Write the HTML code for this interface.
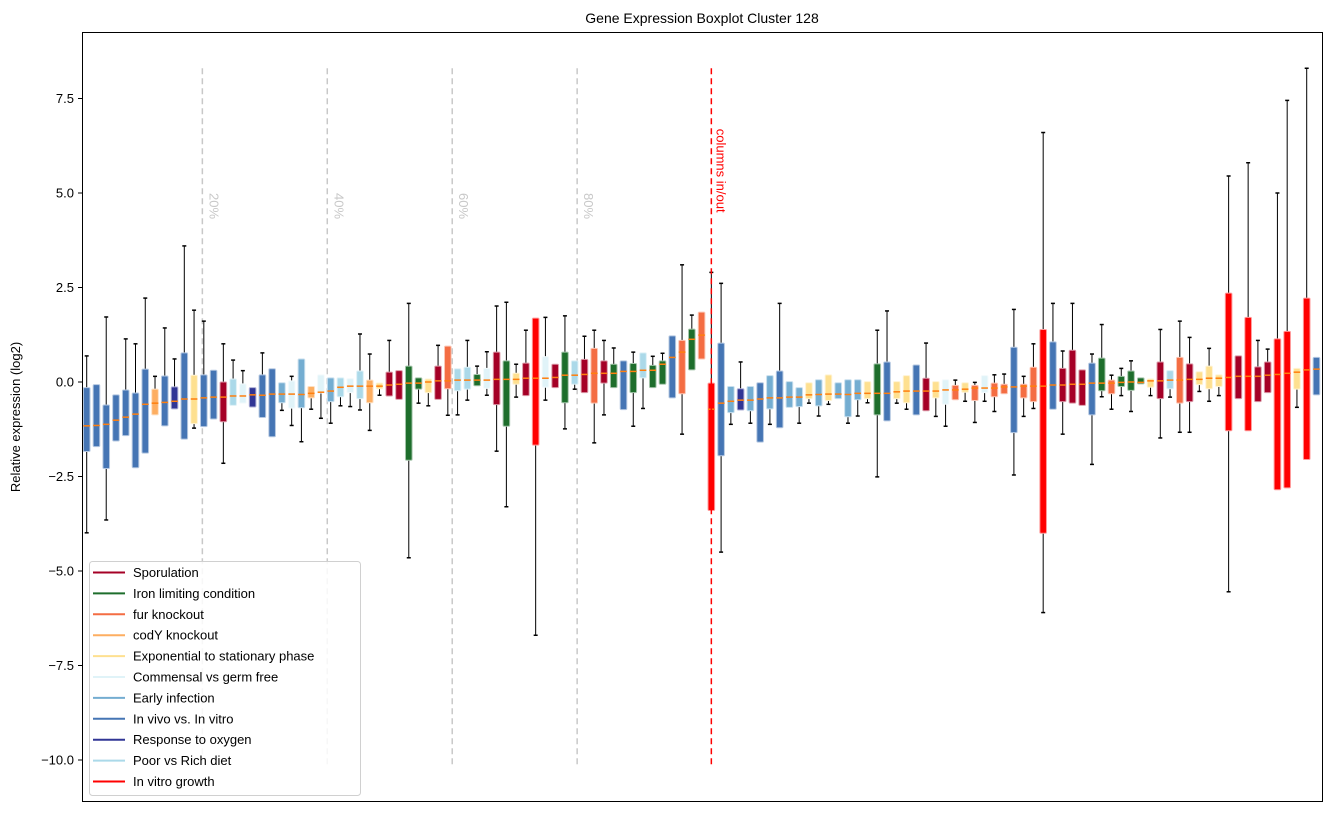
<!DOCTYPE html>
<html><head><meta charset="utf-8"><style>
body{margin:0;background:#fff;font-family:"Liberation Sans","DejaVu Sans",sans-serif;}
svg text{font-family:"Liberation Sans","DejaVu Sans",sans-serif;}
</style></head><body>
<svg id="chart" width="1331" height="812" xmlns="http://www.w3.org/2000/svg">
<rect x="0" y="0" width="1331" height="812" fill="#fff"/>
<g id="plot"></g>
<rect x="82.5" y="32.5" width="1240" height="769" fill="none" stroke="#000" stroke-width="1"/>
<text x="702" y="23" text-anchor="middle" font-size="14">Gene Expression Boxplot Cluster 128</text>
<text transform="translate(20,417) rotate(-90)" text-anchor="middle" font-size="13">Relative expression (log2)</text>
<g id="yaxis"></g>
<g id="legend"></g>
</svg>
<script>
const groups = ["Sporulation","Iron limiting condition","fur knockout","codY knockout","Exponential to stationary phase","Commensal vs germ free","Early infection","In vivo vs. In vitro","Response to oxygen","Poor vs Rich diet","In vitro growth"];
const groupColors = ["#a50026","#1e6e2c","#f46d43","#fdae61","#fee090","#e0f3f8","#74add1","#4575b4","#313695","#abd9e9","#ff0000"];
const groupCodes = ["S","I","F","C","E","M","A","V","O","P","R"];
const boxGroups = "VVVVVVVCVOVEVVSPMOVVAMACMAPMPCESSIIESFPPIMSIESRMSIPSFSIVIPIIVFIFRVAOAVAVAAEAEAAAEIVEEVSEMFEFMFFVFFRVSSSVIFIIIESPFSEEERSRSSRRERV".split("");
const q1 = [-1.84,-1.71,-2.29,-1.56,-1.42,-2.27,-1.88,-0.87,-1.16,-0.71,-1.51,-1.10,-1.18,-0.98,-1.05,-0.62,-0.56,-0.66,-0.94,-1.45,-0.55,-0.69,-0.68,-0.42,-0.29,-0.52,-0.39,-0.28,-0.44,-0.55,-0.18,-0.37,-0.46,-2.07,-0.19,-0.28,-0.46,-0.18,-0.23,-0.19,-0.10,-0.17,-0.60,-1.17,-0.06,-0.36,-1.67,-0.14,-0.15,-0.55,-0.06,-0.28,-0.56,-0.03,-0.15,-0.73,-0.28,0.11,-0.15,-0.06,-0.42,-0.31,0.32,0.61,-3.4,-1.95,-0.81,-0.74,-0.76,-1.59,-0.71,-1.21,-0.67,-0.65,-0.44,-0.63,-0.49,-0.44,-0.92,-0.47,-0.44,-0.87,-1.03,-0.44,-0.55,-0.87,-0.76,-0.42,-0.59,-0.47,-0.27,-0.49,-0.28,-0.39,-0.31,-1.34,-0.42,-0.52,-4.0,-0.72,-0.52,-0.56,-0.62,-0.87,-0.23,-0.31,-0.12,-0.22,-0.05,-0.14,-0.44,-0.18,-0.56,-0.52,-0.07,-0.18,-0.12,-1.29,-0.44,-1.29,-0.52,-0.28,-2.85,-2.8,-0.19,-2.05,-0.34];
const medians = [-1.16,-1.15,-1.12,-1.01,-0.93,-0.85,-0.59,-0.56,-0.54,-0.51,-0.45,-0.45,-0.42,-0.40,-0.40,-0.37,-0.37,-0.34,-0.35,-0.32,-0.32,-0.32,-0.33,-0.30,-0.27,-0.24,-0.14,-0.11,-0.11,-0.11,-0.11,-0.08,-0.06,-0.03,-0.03,0.0,0.03,0.03,0.05,0.05,0.05,0.05,0.07,0.07,0.07,0.10,0.10,0.10,0.12,0.18,0.18,0.20,0.23,0.23,0.23,0.28,0.28,0.31,0.31,0.47,0.65,0.79,1.13,1.24,-0.72,-0.56,-0.51,-0.48,-0.48,-0.45,-0.42,-0.42,-0.40,-0.40,-0.34,-0.33,-0.32,-0.32,-0.33,-0.30,-0.30,-0.30,-0.30,-0.26,-0.24,-0.24,-0.24,-0.24,-0.21,-0.21,-0.19,-0.16,-0.16,-0.16,-0.13,-0.13,-0.11,-0.11,-0.11,-0.08,-0.08,-0.06,-0.06,-0.03,-0.03,-0.03,-0.01,0.0,-0.01,0.03,0.03,0.05,0.05,0.07,0.07,0.10,0.10,0.12,0.15,0.15,0.15,0.18,0.20,0.23,0.26,0.32,0.34];
const q3 = [-0.15,-0.07,-0.61,-0.34,-0.21,-0.29,0.34,-0.19,0.16,-0.13,0.77,0.18,0.19,0.31,0.0,0.08,-0.05,-0.15,0.19,0.35,-0.02,0.03,0.61,-0.12,0.19,0.11,0.11,0.09,0.29,0.05,-0.03,0.26,0.30,0.42,0.11,0.08,0.42,0.95,0.35,0.39,0.20,0.36,0.79,0.56,0.23,0.50,1.69,0.67,0.47,0.79,0.56,0.60,0.89,0.56,0.47,0.56,0.49,0.77,0.44,0.56,1.22,1.10,1.40,1.85,-0.03,1.03,-0.12,-0.18,-0.12,-0.02,0.17,0.29,0.01,-0.15,-0.02,0.06,0.19,-0.02,0.06,0.06,0.01,0.48,0.53,0.01,0.17,0.45,0.10,0.01,0.06,-0.09,-0.02,-0.09,0.17,-0.03,-0.06,0.92,-0.06,0.39,1.39,1.06,0.36,0.84,0.32,0.50,0.63,0.05,0.15,0.29,0.11,0.08,0.53,0.30,0.65,0.48,0.27,0.42,0.19,2.35,0.69,1.71,0.40,0.53,1.14,1.34,0.36,2.22,0.65];
const whiskerLow = [-3.99,-1.71,-3.65,-1.56,-1.42,-2.27,-1.88,-0.87,-1.16,-0.71,-1.51,-1.22,-1.18,-0.98,-2.15,-0.62,-0.56,-0.66,-0.94,-1.45,-0.75,-1.15,-1.58,-0.72,-0.96,-1.09,-0.63,-0.65,-0.74,-1.28,-0.35,-0.37,-0.46,-4.65,-0.56,-0.63,-0.46,-0.88,-0.87,-0.48,-0.10,-0.35,-1.83,-3.3,-0.40,-0.36,-6.7,-0.48,-0.15,-1.24,-0.19,-0.28,-1.61,-0.87,-0.15,-0.73,-1.17,-0.70,-0.15,-0.06,-0.42,-1.38,0.32,0.61,-3.4,-4.5,-1.12,-0.74,-1.09,-1.59,-1.12,-1.21,-0.67,-1.09,-0.56,-0.90,-0.59,-0.44,-1.09,-0.90,-0.55,-2.51,-1.03,-0.56,-0.72,-0.87,-0.76,-0.91,-1.17,-0.47,-0.51,-1.07,-0.51,-0.78,-0.31,-2.46,-0.91,-0.70,-6.1,-0.72,-1.38,-0.56,-0.62,-2.18,-0.39,-0.72,-0.36,-0.78,-0.05,-0.36,-1.48,-0.40,-1.33,-1.33,-0.25,-0.51,-0.36,-5.55,-0.44,-1.29,-0.52,-0.28,-2.85,-2.8,-0.67,-2.05,-0.34];
const whiskerHigh = [0.69,-0.07,1.72,-0.34,1.14,1.01,2.22,0.15,1.43,0.61,3.6,1.9,1.61,0.31,1.01,0.58,0.30,-0.15,0.77,0.35,-0.02,0.15,0.61,-0.12,0.19,0.11,0.11,0.09,1.27,0.74,-0.03,1.10,0.30,2.08,0.11,0.08,0.97,0.95,0.35,1.10,0.42,0.80,2.01,2.11,0.47,1.37,1.69,1.71,0.47,1.75,0.56,1.21,1.37,1.10,0.90,0.56,0.79,0.77,0.68,0.76,1.22,3.1,1.77,1.85,2.9,2.61,-0.12,0.53,-0.12,-0.02,0.17,2.08,0.01,-0.15,-0.02,0.06,0.19,-0.02,0.06,0.06,0.01,1.37,1.88,0.01,0.17,0.45,1.03,0.01,0.06,0.05,-0.02,-0.01,0.17,0.19,0.21,1.92,0.15,1.01,6.6,2.08,0.82,2.08,0.32,0.74,1.52,0.18,0.36,0.56,0.11,0.08,1.39,0.30,1.61,1.18,0.27,0.89,0.19,5.45,0.69,5.8,1.10,0.87,5.0,7.45,0.36,8.3,0.65];
const yTicks = [7.5,5.0,2.5,0.0,-2.5,-5.0,-7.5,-10.0];
const pctLines = [11.85,24.65,37.45,50.25];
const pctLabels = ["20%","40%","60%","80%"];
const splitIndex = 64;

const NS="http://www.w3.org/2000/svg";
function yScale(v){return 382-v*37.8;}
function xScale(i){return 86.7+i*9.76;}
function mk(tag,attrs,parent){const e=document.createElementNS(NS,tag);for(const k in attrs)e.setAttribute(k,attrs[k]);parent.appendChild(e);return e;}
function lighten(hex,f){const n=parseInt(hex.slice(1),16);let r=n>>16,g=(n>>8)&255,b=n&255;r=Math.round(r+(255-r)*f);g=Math.round(g+(255-g)*f);b=Math.round(b+(255-b)*f);return `rgb(${r},${g},${b})`;}
const plot=document.getElementById('plot');
const yTop=yScale(8.3), yBot=yScale(-10.2);
pctLines.forEach((p,k)=>{
  const x=xScale(p);
  const l=mk('line',{x1:x,x2:x,y1:yTop,y2:yBot,stroke:'#c8c8c8','stroke-width':1.5,'stroke-dasharray':'6,4'},plot);
  
  
  const t=mk('text',{transform:`translate(${x+7},${yScale(5.0)}) rotate(90)`,'font-size':13,fill:'#c8c8c8'},plot);
  t.textContent=pctLabels[k];
  
  
});
for(let i=0;i<medians.length;i++){
  const x=xScale(i), gi=groupCodes.indexOf(boxGroups[i]), col=groupColors[gi];
  const g=mk('g',{},plot);
  
  
  mk('line',{x1:x,x2:x,y1:yScale(whiskerHigh[i]),y2:yScale(q3[i]),stroke:'#000','stroke-width':1},g);
  mk('line',{x1:x,x2:x,y1:yScale(q1[i]),y2:yScale(whiskerLow[i]),stroke:'#000','stroke-width':1},g);
  if(whiskerHigh[i]>q3[i]+0.01) mk('line',{x1:x-2,x2:x+2,y1:yScale(whiskerHigh[i]),y2:yScale(whiskerHigh[i]),stroke:'#000','stroke-width':1.5},g);
  if(whiskerLow[i]<q1[i]-0.01) mk('line',{x1:x-2,x2:x+2,y1:yScale(whiskerLow[i]),y2:yScale(whiskerLow[i]),stroke:'#000','stroke-width':1.5},g);
  const y3=yScale(q3[i]), y1=yScale(q1[i]);
  mk('rect',{x:x-3.3,y:y3,width:6.6,height:Math.max(1,y1-y3),fill:col,stroke:lighten(col,0.6),'stroke-width':1,rx:1},g);
  mk('line',{x1:x-3.3,x2:x+3.3,y1:yScale(medians[i]),y2:yScale(medians[i]),stroke:'#ff7f0e','stroke-width':1.5},g);
}
const sx=xScale(splitIndex);
const sl=mk('line',{x1:sx,x2:sx,y1:yTop,y2:yBot,stroke:'#ff0000','stroke-width':1.5,'stroke-dasharray':'6,4'},plot);


const st=mk('text',{transform:`translate(${sx+5},${yScale(6.7)}) rotate(90)`,'font-size':13,fill:'#ff0000'},plot);
st.textContent='columns in/out';


const ya=document.getElementById('yaxis');
yTicks.forEach(v=>{
  const y=yScale(v);
  mk('line',{x1:78,x2:82,y1:y,y2:y,stroke:'#000','stroke-width':1},ya);
  const t=mk('text',{x:74,y:y+4.5,'text-anchor':'end','font-size':13},ya);
  t.textContent=(v<0?'\u2212':'')+Math.abs(v).toFixed(1);
  
  
});
const lg=document.getElementById('legend');
const lb=mk('rect',{x:89.5,y:561.5,width:271,height:234,rx:3,fill:'#fff','fill-opacity':0.85,stroke:'#d0d0d0'},lg);


groups.forEach((name,k)=>{
  const y=572.5+k*20.9;
  const e=mk('g',{},lg);
  
  
  mk('line',{x1:93,x2:125,y1:y,y2:y,stroke:groupColors[k],'stroke-width':2},e);
  const t=mk('text',{x:133,y:y+4.5,'font-size':13},e);
  t.textContent=name;
});
</script>
</body></html>
